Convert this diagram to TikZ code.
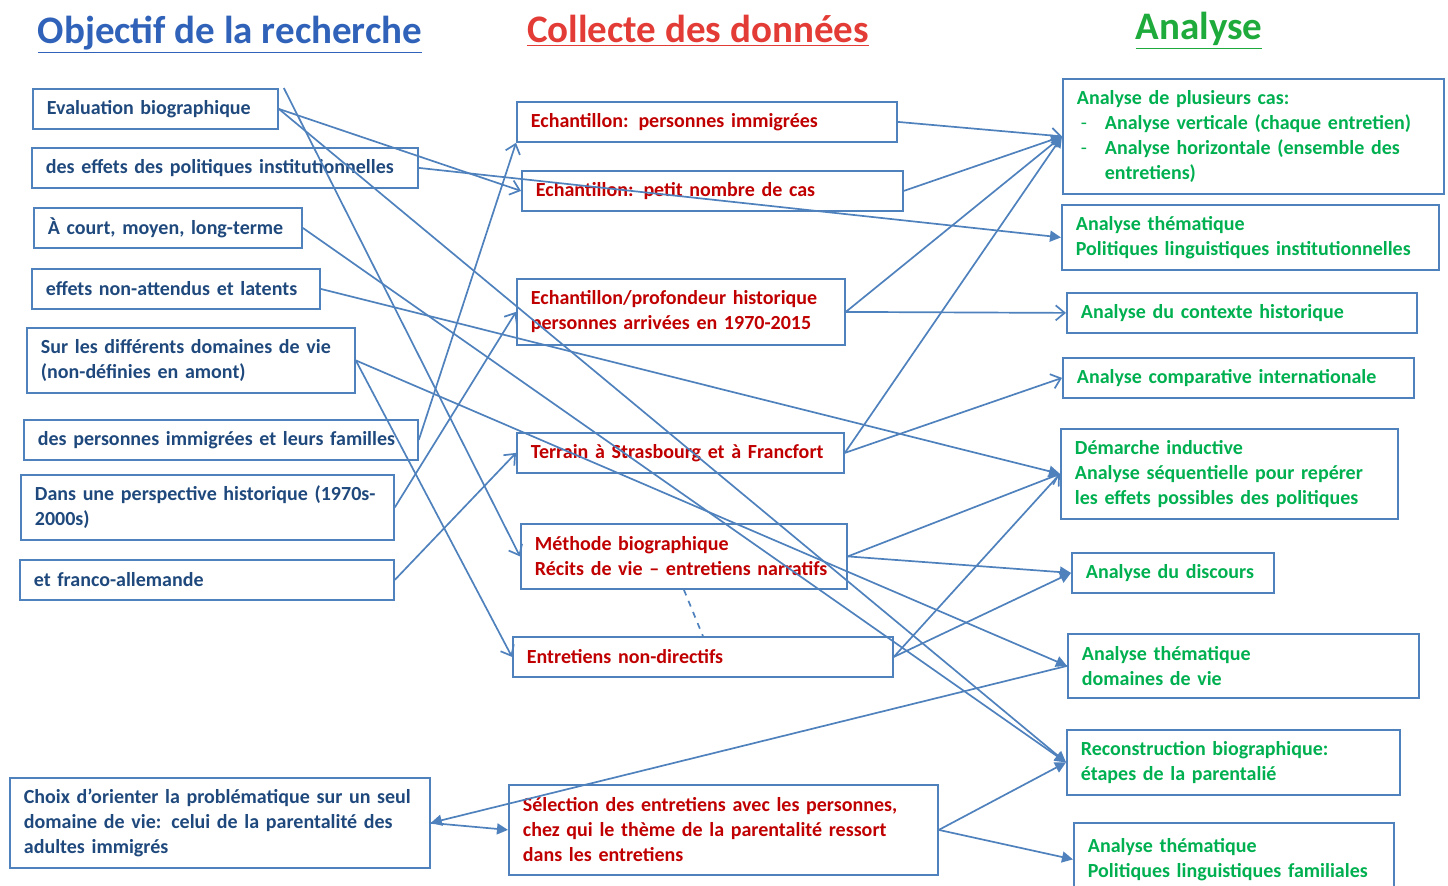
\documentclass[tikz,border=0pt]{standalone}
\usepackage{fontspec}
\setmainfont{Carlito}
\usetikzlibrary{positioning,arrows.meta}
\definecolor{boxblue}{HTML}{4F81BD}
\definecolor{navy}{HTML}{1F497D}
\definecolor{darkred}{HTML}{C00000}
\definecolor{leafgreen}{HTML}{00B050}
\definecolor{headblue}{HTML}{2F62B8}
\definecolor{headred}{HTML}{E33B35}
\definecolor{headgreen}{HTML}{1EAB3C}
\tikzset{box/.style = {draw=boxblue, line width=0.9pt, anchor=north west, align=left, inner xsep=7pt, inner ysep=2pt, font=\bfseries\fontsize{10}{12.5}\selectfont}}
\tikzset{goal/.style = {box, text=navy}}
\tikzset{data/.style = {box, text=darkred}}
\tikzset{result/.style = {box, text=leafgreen}}
\tikzset{heading/.style = {font=\bfseries\fontsize{19.5}{22}\selectfont}}
\tikzset{solid tip/.style = {-{Triangle[length=5.5pt,width=5.5pt]}}}

\begin{document}
\begin{tikzpicture}[x=0.5pt, y=-0.5pt, >={Straight Barb[length=4.5pt,width=7.5pt]},
    every edge/.style={draw=boxblue, line width=0.85pt}]
  \useasboundingbox (0,0) rectangle (1448,885);

  \node [heading, text=headblue] (objectif) at (230,35) {\underline{Objectif de la recherche}};
  \node [heading, text=headred] (collecte) at (698,31) {\underline{Collecte des données}};
  \node [heading, text=headgreen] (analyse) at (1199,31) {\underline{Analyse}};

  % objectifs
  \node [goal, text width=108.5pt, minimum height=20pt] (eval) at (32,88) {Evaluation biographique};
  \node [goal, text width=179pt, minimum height=20pt] (effets) at (31,147) {des effets des politiques institutionnelles};
  \node [goal, text width=120pt, minimum height=20pt] (court) at (33,207) {À court, moyen, long-terme};
  \node [goal, text width=130pt, minimum height=20pt] (latents) at (31,268) {effets non-attendus et latents};
  \node [goal, text width=150pt, minimum height=32.5pt] (domaines) at (26,327) {Sur les différents domaines de vie\\(non-définies en amont)};
  \node [goal, text width=183pt, minimum height=20pt] (familles) at (23,419) {des personnes immigrées et leurs familles};
  \node [goal, text width=172.5pt, minimum height=32.5pt] (histo) at (20,474) {Dans une perspective historique (1970s-\\2000s)};
  \node [goal, text width=173pt, minimum height=20pt] (franco) at (19,559) {et franco-allemande};
  \node [goal, text width=196pt, minimum height=45pt] (choix) at (9,777) {Choix d’orienter la problématique sur un seul\\domaine de vie: celui de la parentalité des\\adultes immigrés};

  % collecte
  \node [data, text width=176pt, minimum height=20pt] (immig) at (516,101) {Echantillon: personnes immigrées};
  \node [data, text width=176.5pt, minimum height=20pt] (petit) at (521,170) {Echantillon: petit nombre de cas};
  \node [data, text width=150pt, minimum height=33pt] (profond) at (516,278) {Echantillon/profondeur historique\\personnes arrivées en 1970-2015};
  \node [data, text width=149.5pt, minimum height=20pt] (terrain) at (516,432) {Terrain à Strasbourg et à Francfort};
  \node [data, text width=149pt, minimum height=32.5pt] (methode) at (520,523) {Méthode biographique\\Récits de vie – entretiens narratifs};
  \node [data, text width=176pt, minimum height=20pt] (nondir) at (512,636) {Entretiens non-directifs};
  \node [data, text width=200.5pt, minimum height=45pt] (selection) at (508,784) {Sélection des entretiens avec les personnes,\\chez qui le thème de la parentalité ressort\\dans les entretiens};

  % analyse
  \node [result, text width=176.5pt, minimum height=57.5pt] (plusieurs) at (1062,78) {Analyse de plusieurs cas:\\
    \hspace*{2pt}\makebox[12pt][l]{\mdseries -}Analyse verticale (chaque entretien)\\
    \hspace*{2pt}\makebox[12pt][l]{\mdseries -}Analyse horizontale (ensemble des\\
    \hspace*{14pt}entretiens)};
  \node [result, text width=174.5pt, minimum height=32.5pt] (instit) at (1061,204) {Analyse thématique\\Politiques linguistiques institutionnelles};
  \node [result, text width=161pt, minimum height=20pt] (contexte) at (1066,292) {Analyse du contexte historique};
  \node [result, text width=161.5pt, minimum height=20pt] (comparative) at (1062,357) {Analyse comparative internationale};
  \node [result, text width=154.5pt, minimum height=45pt] (inductive) at (1060,428) {Démarche inductive\\Analyse séquentielle pour repérer\\les effets possibles des politiques};
  \node [result, text width=87pt, minimum height=20pt] (discours) at (1071,552) {Analyse du discours};
  \node [result, text width=161.5pt, minimum height=32pt] (domvie) at (1067,633) {Analyse thématique\\domaines de vie};
  \node [result, text width=152.5pt, minimum height=32.5pt] (reconstr) at (1066,729) {Reconstruction biographique:\\étapes de la parentalié};
  \node [result, text width=146pt, minimum height=36.5pt] (familiales) at (1073,822) {Analyse thématique\\Politiques linguistiques familiales};

  % objectifs -> collecte / analyse
  \path[->] (eval.east) edge (petit.west);
  \path[solid tip] (eval.east) edge (reconstr.west);
  \path[->] ([xshift=2.5pt]eval.north east) edge (methode.west);
  \path[solid tip] (effets.east) edge (instit.west);
  \path[solid tip] (court.east) edge (reconstr.west);
  \path[solid tip] (latents.east) edge (inductive.west);
  \path[solid tip] (domaines.east) edge (domvie.west);
  \path[->] (domaines.east) edge (nondir.west);
  \path[->] (familles.east) edge (immig.south west);
  \path[->] (histo.east) edge (profond.west);
  \path[->] (franco.east) edge (terrain.west);
  \path[solid tip] (choix.east) edge (selection.west);
  \path[solid tip] (domvie.west) edge (choix.east);

  % collecte -> analyse
  \path[->] (immig.east) edge (plusieurs.west);
  \path[solid tip] (petit.east) edge (plusieurs.west);
  \path[solid tip] (profond.east) edge (plusieurs.west);
  \path[->] (profond.east) edge (contexte.west);
  \path[solid tip] (terrain.east) edge (plusieurs.west);
  \path[->] (terrain.east) edge (comparative.west);
  \path[->] (methode.east) edge (inductive.west);
  \path[solid tip] (methode.east) edge (discours.west);
  \path[->] (nondir.east) edge (inductive.west);
  \path[solid tip] (nondir.east) edge (discours.west);
  \path[solid tip] (selection.east) edge (reconstr.west);
  \path[solid tip] (selection.east) edge (familiales.west);
  \path (methode.south) edge [dashed] (nondir.north);
\end{tikzpicture}
\end{document}
